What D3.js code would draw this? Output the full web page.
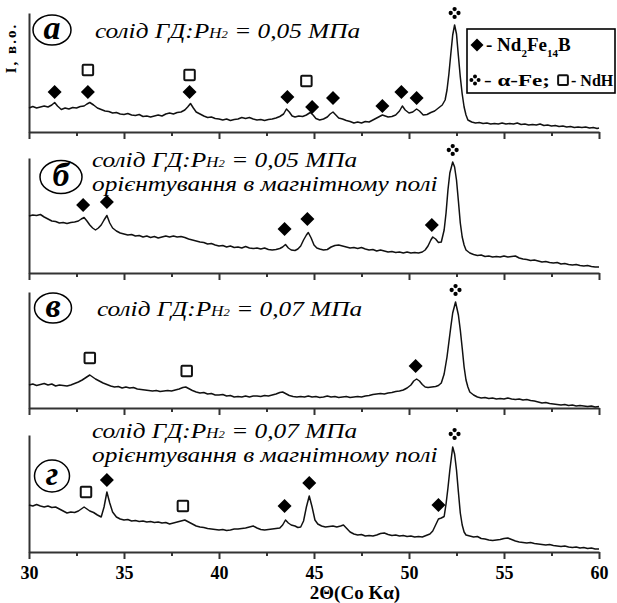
<!DOCTYPE html>
<html>
<head>
<meta charset="utf-8">
<script src="https://cdn.jsdelivr.net/npm/d3@7"></script>
<style>
  body { margin: 0; background: #fff; }
  svg { display: block; font-family: "Liberation Serif", "Times New Roman", serif; }
</style>
</head>
<body>
<svg id="chart" width="617" height="603"></svg>
<script>
// XRD patterns, 2theta (Co K-alpha) vs intensity (arb. units)

const xTicks = [30, 32.5, 35, 37.5, 40, 42.5, 45, 47.5, 50, 52.5, 55, 57.5, 60];
const xLabels = [30, 35, 40, 45, 50, 55, 60];
const panelLetters = ["а", "б", "в", "г"];
const pressures = ["0,05", "0,05", "0,07", "0,07"];
const oriented = [false, true, false, true];

// а) solid HD, P = 0.05 MPa
const scanA = [[30.0,24],[30.2,25.5],[30.4,24],[30.6,25],[30.8,26],[31.0,25],[31.2,27],[31.35,29.5],[31.5,26],[31.7,22.5],[31.9,24],[32.1,23],[32.3,24.5],[32.5,24],[32.7,25.5],[32.9,26],[33.05,28],[33.2,29.5],[33.4,27],[33.6,24],[33.8,22.5],[34.0,21],[34.2,20.5],[34.4,19],[34.6,19.5],[34.8,18],[35.0,17.5],[35.2,18.5],[35.4,17],[35.6,16.5],[35.8,17.5],[36.0,15.5],[36.2,16],[36.4,15],[36.6,16],[36.8,17],[37.0,16],[37.2,18],[37.4,19],[37.6,18],[37.8,19.5],[38.0,20],[38.2,22],[38.35,25],[38.5,28.5],[38.65,24],[38.8,20],[39.0,18],[39.2,16],[39.4,14.5],[39.6,15],[39.8,13.5],[40.0,13],[40.2,12],[40.4,13],[40.6,11.5],[40.8,12.5],[41.0,13],[41.2,14.5],[41.4,13.5],[41.6,14.5],[41.8,13],[42.0,12],[42.2,12.5],[42.4,11.5],[42.6,12.5],[42.8,13],[43.0,14],[43.2,15.5],[43.4,18],[43.55,23],[43.7,20],[43.85,16],[44.0,15],[44.2,16],[44.4,15.5],[44.6,17],[44.8,19.5],[44.95,17],[45.1,13.5],[45.3,12],[45.5,13],[45.7,15],[45.85,18],[46.0,20],[46.15,17],[46.3,14],[46.5,13],[46.7,11.5],[46.9,10.5],[47.1,9],[47.3,10],[47.5,9],[47.7,10.5],[47.9,10],[48.1,12],[48.3,14],[48.45,15.5],[48.6,17],[48.75,16],[48.9,15],[49.1,15.5],[49.3,17],[49.5,21],[49.65,26],[49.8,22],[50.0,19],[50.2,20],[50.4,23],[50.55,21],[50.75,17],[50.95,17.5],[51.15,19.5],[51.35,21],[51.55,24],[51.75,27],[51.9,32],[52.0,42],[52.1,58],[52.2,78],[52.3,97],[52.4,107],[52.5,98],[52.6,76],[52.7,55],[52.8,38],[52.9,25],[53.0,17],[53.1,12],[53.3,10],[53.5,9],[53.7,9.5],[53.9,8.5],[54.1,9],[54.3,8],[54.5,8.5],[54.7,8],[54.9,9],[55.1,8],[55.3,8.5],[55.5,8],[55.7,9],[55.9,7.5],[56.1,8],[56.3,7],[56.5,7.5],[56.7,7],[56.9,8],[57.1,6.5],[57.3,7],[57.5,6],[57.7,6.5],[57.9,5.5],[58.1,6],[58.3,5],[58.5,5.5],[58.7,4.5],[58.9,5],[59.1,4.5],[59.3,5],[59.5,4],[59.7,4.5],[59.9,3.5],[60.0,4]];

// б) same, oriented in magnetic field
const scanB = [[30.0,57],[30.2,58],[30.4,57.5],[30.6,58.5],[30.8,56],[31.0,54],[31.2,52],[31.4,51.5],[31.6,50],[31.8,50.5],[32.0,49.5],[32.2,50.5],[32.4,51],[32.6,52],[32.75,54],[32.9,55.5],[33.05,52],[33.2,48],[33.35,45],[33.5,43],[33.65,45],[33.8,48],[33.95,53],[34.1,57.5],[34.25,50],[34.4,45],[34.6,42],[34.8,40],[35.0,39],[35.2,38],[35.4,38.5],[35.6,37],[35.8,37.5],[36.0,36],[36.2,37],[36.4,35.5],[36.6,36.5],[36.8,35],[37.0,36],[37.2,37],[37.4,36],[37.6,37],[37.8,36],[38.0,36.5],[38.2,35.5],[38.4,34],[38.6,33],[38.8,32],[39.0,31],[39.2,30.5],[39.4,29],[39.6,29.5],[39.8,28],[40.0,27],[40.2,27.5],[40.4,26],[40.6,27],[40.8,25.5],[41.0,26],[41.2,25],[41.4,26.5],[41.6,25],[41.8,24.5],[42.0,25],[42.2,24],[42.4,25],[42.6,23.5],[42.8,23],[43.0,23.5],[43.2,24.5],[43.35,26],[43.5,28.5],[43.65,25],[43.8,23],[44.0,22.5],[44.15,24],[44.3,27],[44.45,33],[44.6,38],[44.7,40.5],[44.85,35],[45.0,28],[45.15,25],[45.3,24],[45.5,23],[45.7,23.5],[45.9,26],[46.1,27.5],[46.3,28],[46.5,27],[46.7,26],[46.9,25],[47.1,25.5],[47.3,24.5],[47.5,25.5],[47.7,24],[47.9,23],[48.1,23.5],[48.3,22],[48.5,23],[48.7,22],[48.9,21],[49.1,21.5],[49.3,20.5],[49.5,21],[49.7,20],[49.9,21],[50.1,20],[50.3,20.5],[50.5,20],[50.7,21],[50.85,23],[51.0,27],[51.15,33],[51.25,36],[51.4,34],[51.55,30.5],[51.7,31],[51.85,43],[51.95,60],[52.05,83],[52.15,100],[52.3,111],[52.4,106],[52.5,93],[52.6,72],[52.7,50],[52.8,36],[52.9,28],[53.0,23],[53.2,20],[53.4,18.5],[53.6,17.5],[53.8,18],[54.0,16.5],[54.2,17],[54.4,16],[54.6,16.5],[54.8,16],[55.0,17],[55.2,16],[55.4,16.5],[55.6,17],[55.8,15],[56.0,14],[56.2,13.5],[56.4,12.5],[56.6,13],[56.8,12],[57.0,11],[57.2,11.5],[57.4,10.5],[57.6,10],[57.8,10.5],[58.0,9],[58.2,9.5],[58.4,8.5],[58.6,8],[58.8,8.5],[59.0,7.5],[59.2,7],[59.4,7.5],[59.6,6.5],[59.8,6],[60.0,6]];

// в) solid HD, P = 0.07 MPa
const scanV = [[30.0,23],[30.2,24],[30.4,22.5],[30.6,23.5],[30.8,24.5],[31.0,23],[31.2,24],[31.4,22],[31.6,23],[31.8,22.5],[32.0,22],[32.2,23],[32.4,24.5],[32.6,26],[32.8,28],[33.0,30.5],[33.2,33],[33.35,31],[33.5,29],[33.7,27],[33.9,25],[34.1,23.5],[34.3,22],[34.5,21],[34.7,21.5],[34.9,20],[35.1,21],[35.3,20],[35.5,20.5],[35.7,19],[35.9,18.5],[36.1,18],[36.3,17.5],[36.5,17],[36.7,17.5],[36.9,16.5],[37.1,17],[37.3,17.5],[37.5,17],[37.7,18],[37.9,19],[38.1,20.5],[38.25,21],[38.4,19.5],[38.6,17.5],[38.8,16],[39.0,15],[39.2,15.5],[39.4,14],[39.6,14.5],[39.8,13],[40.0,13],[40.2,13.5],[40.4,12],[40.6,12.5],[40.8,11],[41.0,11.5],[41.2,11],[41.4,12],[41.6,11],[41.8,12],[42.0,12],[42.2,11.5],[42.4,12.5],[42.6,12],[42.8,13],[43.0,14],[43.2,15.5],[43.35,16],[43.5,14.5],[43.7,12.5],[43.9,11.5],[44.1,11],[44.3,11.5],[44.5,11],[44.7,12],[44.9,11],[45.1,11.5],[45.3,10.5],[45.5,11],[45.7,12],[45.9,11],[46.1,11.5],[46.3,10.5],[46.5,11],[46.7,11.5],[46.9,10.5],[47.1,11],[47.3,11.5],[47.5,11],[47.7,12],[47.9,12.5],[48.1,13.5],[48.3,14],[48.5,14.5],[48.7,14],[48.9,15],[49.1,15.5],[49.3,16.5],[49.5,17],[49.7,18],[49.9,20],[50.1,23],[50.25,27],[50.4,29],[50.55,27],[50.7,23.5],[50.85,21],[51.0,20.5],[51.2,21],[51.4,21.5],[51.55,22.5],[51.7,25],[51.85,34],[52.0,51],[52.1,66],[52.2,81],[52.3,95],[52.45,106],[52.6,93],[52.7,78],[52.8,60],[52.9,41],[53.0,28],[53.1,21],[53.2,16],[53.4,13],[53.6,11],[53.8,10],[54.0,10.5],[54.2,9.5],[54.4,10],[54.6,9],[54.8,9.5],[55.0,9],[55.2,10],[55.4,9],[55.6,8.5],[55.8,9],[56.0,8],[56.2,8.5],[56.4,7.5],[56.6,7],[56.8,6],[57.0,5],[57.2,5.5],[57.4,4.5],[57.6,4],[57.8,3.5],[58.0,3],[58.2,3.5],[58.4,2.5],[58.6,3],[58.8,2],[59.0,2.5],[59.2,2],[59.4,1.5],[59.6,2],[59.8,1],[60.0,1.5]];

// г) same, oriented in magnetic field
const scanG = [[30.0,47],[30.2,46],[30.4,47.5],[30.6,46],[30.8,45],[31.0,46],[31.2,44.5],[31.4,45],[31.6,43],[31.8,41],[32.0,39],[32.2,40],[32.4,39.5],[32.6,41],[32.75,43],[32.9,45],[33.05,43],[33.2,41],[33.4,39.5],[33.6,37],[33.8,35],[33.95,45],[34.1,60],[34.25,49],[34.4,40],[34.6,35],[34.8,33],[35.0,32],[35.2,32.5],[35.4,31],[35.6,31.5],[35.8,30.5],[36.0,31],[36.2,30],[36.4,30.5],[36.6,29.5],[36.8,30],[37.0,29],[37.2,29.5],[37.4,28],[37.6,29],[37.8,30],[38.0,31],[38.2,32],[38.4,30],[38.6,28],[38.8,26],[39.0,25],[39.2,24.5],[39.4,23.5],[39.6,23],[39.8,22.5],[40.0,22],[40.2,22.5],[40.4,21.5],[40.6,22],[40.8,23],[41.0,23],[41.2,23.5],[41.4,24],[41.6,25],[41.8,26],[42.0,24],[42.2,22.5],[42.4,22],[42.6,22.5],[42.8,23],[43.0,23.5],[43.2,24],[43.35,27],[43.5,32],[43.65,29],[43.8,27],[44.0,26],[44.15,24.5],[44.3,25],[44.45,31],[44.6,45],[44.75,56],[44.9,45],[45.05,32],[45.2,28],[45.4,26],[45.6,25],[45.8,25.5],[46.0,26],[46.2,25],[46.4,26],[46.55,27],[46.7,24],[46.9,20],[47.1,18],[47.3,17],[47.5,17.5],[47.7,16],[47.9,16.5],[48.1,16],[48.3,17],[48.5,18.5],[48.7,19],[48.9,17.5],[49.1,16.5],[49.3,17],[49.5,16],[49.7,16.5],[49.9,15.5],[50.1,16],[50.3,15],[50.5,15.5],[50.7,15],[50.9,16.5],[51.1,18],[51.25,21],[51.4,27],[51.55,33],[51.7,34],[51.85,35.5],[51.95,48],[52.05,64],[52.15,82],[52.3,105],[52.4,98],[52.5,82],[52.6,60],[52.7,39],[52.8,27],[52.9,20],[53.0,17],[53.2,16],[53.4,15],[53.6,15.5],[53.8,13.5],[54.0,13],[54.2,12],[54.4,11.5],[54.6,12],[54.8,12.5],[55.0,13.5],[55.2,14],[55.4,12.5],[55.6,11],[55.8,10],[56.0,9.5],[56.2,9],[56.4,9.5],[56.6,8.5],[56.8,8],[57.0,7.5],[57.2,7],[57.4,7.5],[57.6,6.5],[57.8,6],[58.0,5.5],[58.2,6],[58.4,5],[58.6,4.5],[58.8,5],[59.0,4],[59.2,4.5],[59.4,3.5],[59.6,4],[59.8,3],[60.0,3]];

// phase marks: d = Nd2Fe14B, s = NdH, f = alpha-Fe  [type, 2theta, level]
const marksA = [["d",31.35,40],["d",33.1,40],["d",38.45,40],["d",43.6,35],["d",44.9,25],["d",46.0,34],["d",48.6,26],["d",49.6,40],["d",50.4,34],
                ["s",33.1,62],["s",38.45,57],["s",44.6,51],["f",52.4,119]];
const marksB = [["d",32.85,68],["d",34.1,71],["d",43.45,44],["d",44.65,54],["d",51.2,48],["f",52.3,123]];
const marksV = [["s",33.2,50],["s",38.3,37],["d",50.35,42],["f",52.45,118]];
const marksG = [["s",33.0,60],["d",34.1,72],["s",38.1,46],["d",43.45,46],["d",44.75,69],["d",51.55,47],["f",52.4,118]];

const svg = d3.select("#chart");

const x = d3.scaleLinear().domain([30, 60]).range([29, 599]);

const panels = [
  { scan: scanA, marks: marksA, top: 13,  bottom: 132 },
  { scan: scanB, marks: marksB, top: 158, bottom: 273 },
  { scan: scanV, marks: marksV, top: 292, bottom: 408 },
  { scan: scanG, marks: marksG, top: 435, bottom: 552 }
];

// label placement (circle centre, title start, first baseline)
const labelPos = [
  { cx: 52, cy: 30, rx: 19, ry: 15, tx: 95, ty: 38 },
  { cx: 61, cy: 177, rx: 21, ry: 16.5, tx: 92, ty: 167 },
  { cx: 53, cy: 308, rx: 18.5, ry: 15, tx: 97, ty: 316 },
  { cx: 52, cy: 476, rx: 17.5, ry: 16, tx: 92, ty: 438 }
];

const axisColor = "#333";
const stretch = 1.15; // titles are set wide, like the original scan

function drawMark(g, type, px, py, s) {
  if (type === "d") {
    g.append("path").attr("d", `M${px},${py - s}L${px + s},${py}L${px},${py + s}L${px - s},${py}Z`).attr("fill", "#000");
  } else if (type === "s") {
    g.append("rect").attr("x", px - s * 0.75).attr("y", py - s * 0.75)
      .attr("width", s * 1.5).attr("height", s * 1.5).attr("rx", 1)
      .attr("fill", "#fff").attr("stroke", "#111").attr("stroke-width", 2);
  } else {
    [[0, -1], [1, 0], [0, 1], [-1, 0]].forEach(o => {
      g.append("circle").attr("cx", px + o[0] * s * 0.6).attr("cy", py + o[1] * s * 0.6)
        .attr("r", s * 0.33).attr("fill", "#000");
    });
  }
}

panels.forEach((p, i) => {
  const y = d3.scaleLinear().domain([0, p.bottom - p.top]).range([p.bottom, p.top]);
  const g = svg.append("g");

  // bottom axis
  const ax = g.append("g").attr("transform", `translate(0,${p.bottom})`)
    .call(d3.axisBottom(x).tickValues(xTicks).tickSize(7).tickSizeOuter(0)
      .tickFormat(d => (i === 3 && xLabels.includes(d)) ? d : ""));
  ax.select(".domain").attr("stroke", axisColor).attr("stroke-width", 2);
  ax.selectAll(".tick line").attr("stroke", axisColor).attr("stroke-width", 2)
    .attr("y2", d => xLabels.includes(d) ? 7 : 4);
  ax.selectAll(".tick text")
    .attr("y", 14)
    .attr("fill", "#000")
    .style("font-family", "Liberation Serif, serif")
    .style("font-size", "18px")
    .style("font-weight", "bold");

  // left axis line
  const ay = g.append("g").attr("transform", `translate(${x(30)},0)`)
    .call(d3.axisLeft(y).tickValues([]).tickSizeOuter(0));
  ay.select(".domain").attr("stroke", axisColor).attr("stroke-width", 2);

  // pattern
  g.append("path")
    .datum(p.scan)
    .attr("fill", "none")
    .attr("stroke", "#111")
    .attr("stroke-width", 1.5)
    .attr("stroke-linejoin", "round")
    .attr("d", d3.line().x(d => x(d[0])).y(d => y(d[1])));

  // phase marks
  p.marks.forEach(m => drawMark(g, m[0], x(m[1]), y(m[2]), m[0] === "f" ? 6.5 : 7));

  // circled letter
  const lp = labelPos[i];
  g.append("ellipse").attr("cx", lp.cx).attr("cy", lp.cy).attr("rx", lp.rx).attr("ry", lp.ry)
    .attr("fill", "#fff").attr("stroke", "#000").attr("stroke-width", 1.5);
  g.append("text").attr("x", lp.cx).attr("y", lp.cy + 9)
    .attr("text-anchor", "middle")
    .style("font-size", "34px").style("font-style", "italic").style("font-weight", "bold")
    .text(panelLetters[i]);

  // title
  const tg = g.append("g").attr("transform", `translate(${lp.tx},${lp.ty}) scale(${stretch},1)`);
  const t = tg.append("text")
    .style("font-size", "22px").style("font-style", "italic");
  t.append("tspan").text("солід ГД:P");
  t.append("tspan").style("font-size", "15px").text("Н");
  t.append("tspan").style("font-size", "11px").text("2");
  t.append("tspan").text(" = " + pressures[i] + " МПа");
  if (oriented[i]) {
    tg.append("text").attr("y", 24)
      .style("font-size", "22px").style("font-style", "italic")
      .text("орієнтування в магнітному полі");
  }
});

// x-axis title
svg.append("text").attr("x", 355).attr("y", 599).attr("text-anchor", "middle")
  .style("font-size", "19px").style("font-weight", "bold")
  .text("2Θ(Co Kα)");

// y-axis title
svg.append("text").attr("transform", "translate(16,48) rotate(-90)")
  .attr("text-anchor", "middle")
  .style("font-size", "15px").style("font-weight", "bold")
  .style("letter-spacing", "2px")
  .text("I, в.о.");

// legend
const lg = svg.append("g");
lg.append("rect").attr("x", 467).attr("y", 29).attr("width", 148).attr("height", 64)
  .attr("fill", "#fff").attr("stroke", "#000").attr("stroke-width", 1.6);
drawMark(lg, "d", 477, 45, 6.5);
const l1 = lg.append("text").attr("x", 486).attr("y", 51)
  .style("font-size", "19px").style("font-weight", "bold");
l1.append("tspan").text("- Nd");
l1.append("tspan").attr("dy", 6).style("font-size", "11px").text("2");
l1.append("tspan").attr("dy", -6).text("Fe");
l1.append("tspan").attr("dy", 6).style("font-size", "11px").text("14");
l1.append("tspan").attr("dy", -6).text("B");
drawMark(lg, "f", 475, 80, 6);
lg.append("text").attr("x", 484).attr("y", 86)
  .attr("textLength", 66).attr("lengthAdjust", "spacingAndGlyphs")
  .style("font-size", "17px").style("font-weight", "bold")
  .text("- α-Fe;");
drawMark(lg, "s", 563, 80, 6.5);
lg.append("text").attr("x", 571).attr("y", 86)
  .style("font-size", "16px").style("font-weight", "bold")
  .text("- NdH");
</script>
</body>
</html>
